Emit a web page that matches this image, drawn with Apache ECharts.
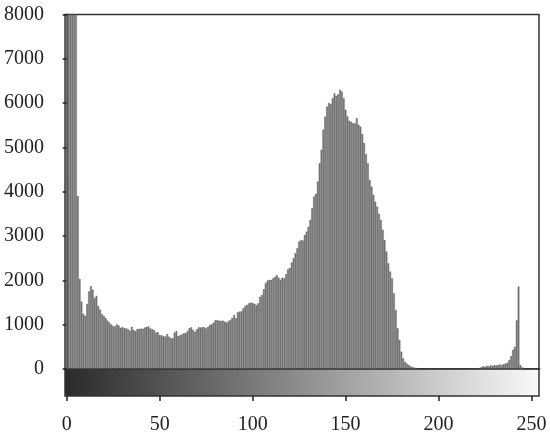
<!DOCTYPE html>
<html>
<head>
<meta charset="utf-8">
<style>
html,body{margin:0;padding:0;background:#fff;}
#c{width:550px;height:439px;}
</style>
<script src="https://cdn.jsdelivr.net/npm/echarts@6/dist/echarts.min.js"></script>
</head>
<body>
<div id="c"></div>
<script>
// Histogram counts for intensity levels 0..255
const counts = [
4300,9000,12000,10000,9500,9000,3900,2030,1520,1240,
1200,1470,1750,1870,1790,1600,1650,1420,1340,1240,
1200,1150,1090,1045,1000,970,960,1010,980,930,
945,925,915,900,865,950,880,850,900,905,
910,905,935,950,960,915,900,880,820,830,
765,760,740,730,790,730,700,690,820,855,
745,760,780,805,810,855,920,940,880,840,
895,940,935,945,940,920,950,995,1010,1045,
1100,1105,1090,1085,1090,1070,1045,1080,1105,1150,
1220,1150,1280,1295,1300,1370,1420,1440,1480,1500,
1490,1470,1440,1480,1630,1670,1800,1935,1995,2010,
2010,2045,2080,2120,2060,2015,2060,2045,2140,2250,
2280,2400,2500,2610,2725,2875,2910,2900,3025,3100,
3210,3365,3625,3890,3950,4230,4640,4945,5400,5695,
5920,6000,5980,6110,6220,6165,6200,6300,6260,6110,
5850,5700,5600,5580,5545,5545,5660,5510,5470,5300,
5100,4850,4640,4265,4115,3930,3775,3665,3500,3365,
3140,2910,2650,2385,2200,2045,1710,1330,920,655,
390,240,160,120,90,60,40,30,20,15,
10,10,8,8,6,6,5,5,4,4,
4,3,3,3,3,3,3,4,4,5,
5,5,4,4,5,6,6,8,8,10,
12,15,20,40,60,50,70,60,80,70,
90,80,90,100,90,110,120,140,200,290,
430,500,1100,1860,90,40,0,0,0,0,
0,0,0,0,0,0
];
const yTicks = [0,1000,2000,3000,4000,5000,6000,7000,8000];
const xTicks = [0,50,100,150,200,250];

const levels = counts.map((v,i)=>[i,v]);
const font = 'Liberation Serif';

const chart = echarts.init(document.getElementById('c'), null, {renderer:'canvas'});
chart.setOption({
  animation:false,
  backgroundColor:'#fff',
  grid:[
    {left:65, right:11, top:14.5, height:354.5, show:true, borderColor:'#333', borderWidth:1.5, backgroundColor:'#fff'},
    {left:65, right:11, top:369, height:27, show:true, borderColor:'#333', borderWidth:1.5,
     backgroundColor:{type:'linear',x:0,y:0,x2:1,y2:0,colorStops:[{offset:0,color:'#2a2a2a'},{offset:0.5,color:'#8e8e8e'},{offset:1,color:'#fafafa'}]}}
  ],
  xAxis:[
    {gridIndex:0, type:'value', min:-0.9, max:254, show:false},
    {gridIndex:1, type:'value', min:-0.9, max:254,
     axisLine:{show:false},
     splitLine:{show:false},
     axisTick:{show:true, length:5, lineStyle:{color:'#222',width:1.5}, customValues:xTicks},
     axisLabel:{customValues:xTicks, margin:19, color:'#222', fontFamily:font, fontSize:20,
       formatter:(v)=>String(v)}}
  ],
  yAxis:[
    {gridIndex:0, type:'value', min:0, max:8000, interval:1000,
     axisLine:{show:true, lineStyle:{color:'#333',width:1.5}},
     axisTick:{show:true, length:4, lineStyle:{color:'#222',width:1.5}},
     splitLine:{show:false},
     axisLabel:{margin:21, color:'#222', fontFamily:font, fontSize:20, customValues:yTicks,
       formatter:(v)=>String(v)}},
    {gridIndex:1, type:'value', min:0, max:1, show:false}
  ],
  series:[{
    type:'bar', xAxisIndex:0, yAxisIndex:0, data:levels, clip:true,
    barWidth:1.6,
    itemStyle:{color:'#828282', borderColor:'#2a2a2a', borderWidth:0.3}
  }]
});
</script>
</body>
</html>
